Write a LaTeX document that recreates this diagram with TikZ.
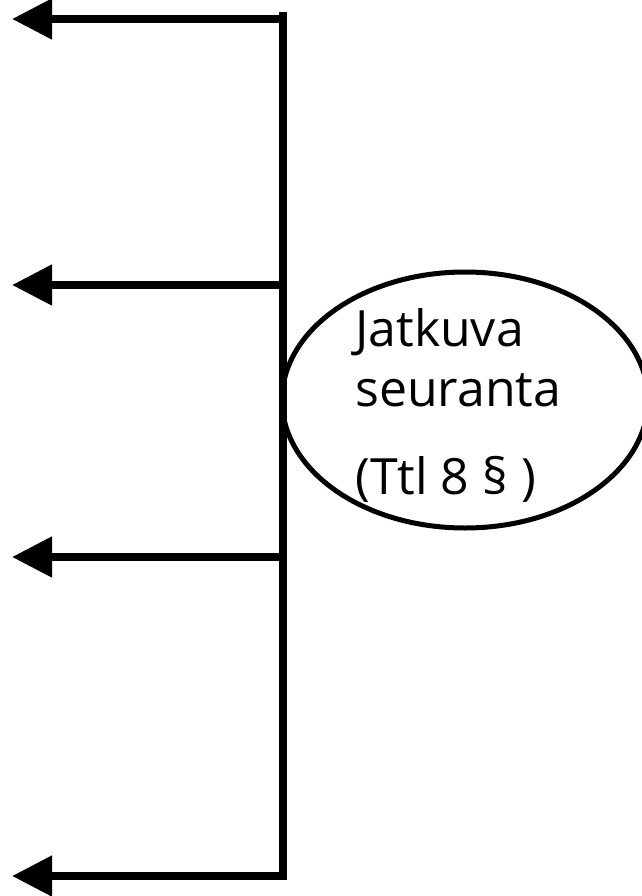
\documentclass[tikz,border=0pt]{standalone}
\usepackage{fontspec}
\setmainfont{Open Sans}
\usetikzlibrary{calc}
\usetikzlibrary{arrows.meta}
\usetikzlibrary{shapes.geometric}

\begin{document}
\begin{tikzpicture}[x=1pt, y=-1pt,
    haara/.style={line width=8pt, -{Triangle[length=40pt, width=39pt]}}]
    % Picture frame (pixel units, y downwards)
    \useasboundingbox (0,0) rectangle (641,896);

    % Main vertical line
    \def\xRunko{283}
    \coordinate (top) at (\xRunko, 12);
    \coordinate (h1) at (\xRunko, 19);
    \coordinate (h2) at (\xRunko, 285);
    \coordinate (h3) at (\xRunko, 557);
    \coordinate (h4) at (\xRunko, 876);

    % Arrow tips at the left
    \coordinate (k1) at (12, 19);
    \coordinate (k2) at (12, 285);
    \coordinate (k3) at (12, 557);
    \coordinate (k4) at (12, 876);

    % Vertical line and bottom arrow in one stroke
    \draw[haara, line join=miter] (top) -- (h4) -- (k4);

    % The other branches
    \draw[haara] (h1) -- (k1);
    \draw[haara] (h2) -- (k2);
    \draw[haara] (h3) -- (k3);

    % Ellipse for continuous monitoring
    \node[draw, ellipse, line width=5pt, minimum width=366pt, minimum height=256pt, inner sep=0pt] (seuranta) at (465, 400) {};
    \node[anchor=north west, inner sep=0pt, align=left, font=\fontsize{50}{60}\selectfont] (teksti) at (355, 308)
        {Jatkuva\\seuranta\\[28pt](Ttl 8 § )};

\end{tikzpicture}
\end{document}
